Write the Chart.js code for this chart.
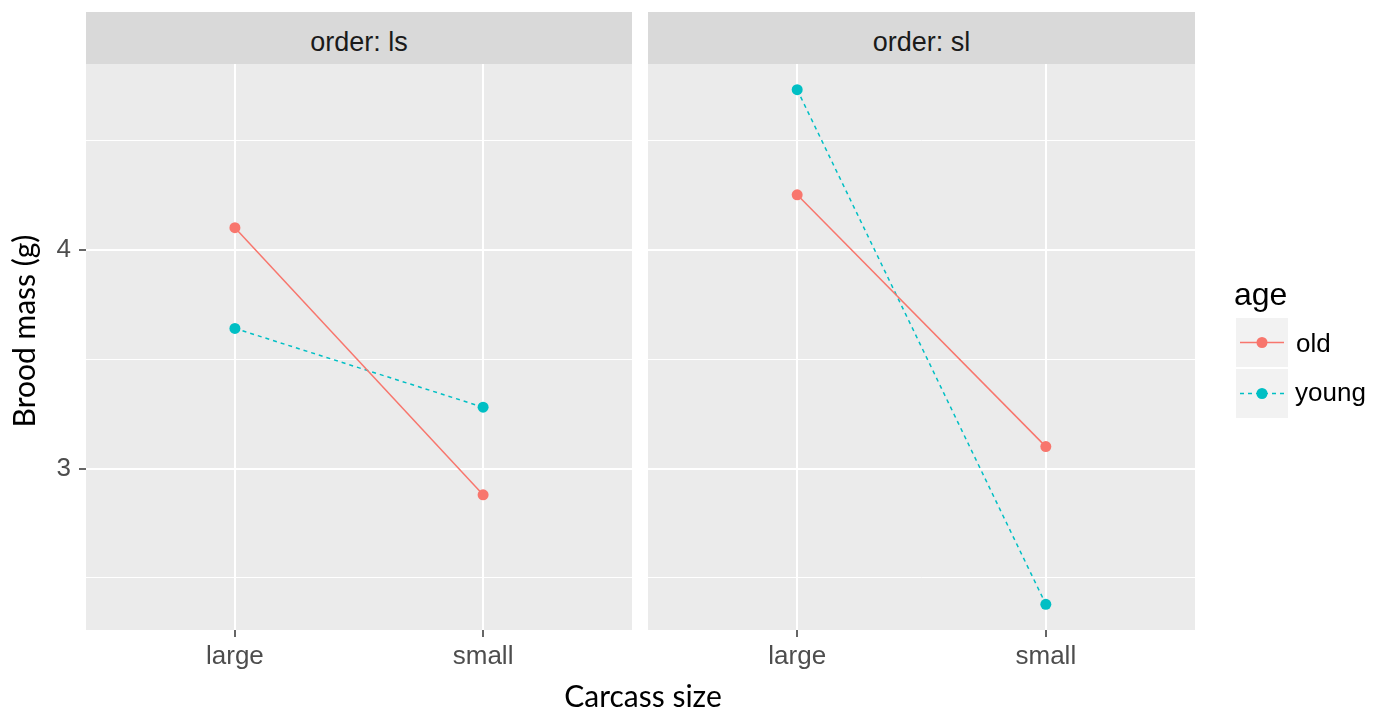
<!DOCTYPE html>
<html>
<head>
<meta charset="utf-8">
<title>Brood mass by carcass size</title>
<script src="https://cdn.jsdelivr.net/npm/chart.js@4.4.1/dist/chart.umd.min.js"></script>
<style>
  html, body { margin: 0; padding: 0; background: #ffffff; }
  body { position: relative; width: 1376px; height: 711px; overflow: hidden; font-family: "Liberation Sans", Arial, sans-serif; }
  canvas { position: absolute; }
  .strip { position: absolute; top: 12px; height: 52px; background: #D9D9D9; }
  .strip span { position: absolute; left: 0; right: 0; top: 17px; text-align: center; font-size: 27px; line-height: 27px; color: #1A1A1A; }
  .axis-title { position: absolute; font-family: Lato, "Liberation Sans", sans-serif; font-size: 30px; line-height: 30px; color: #000; text-align: center; white-space: nowrap; }
  .legend-text { position: absolute; color: #000; white-space: nowrap; }
</style>
</head>
<body>
<div class="strip" style="left:86px; width:546px;"><span id="strip-ls"></span></div>
<div class="strip" style="left:648px; width:547px;"><span id="strip-sl"></span></div>

<canvas id="panel-ls" width="632" height="626" style="left:0px; top:64px;"></canvas>
<canvas id="panel-sl" width="547" height="626" style="left:648px; top:64px;"></canvas>

<div class="axis-title" style="left:493px; top:680px; width:300px;">Carcass size</div>
<div class="axis-title" style="left:-127px; top:316px; width:300px; transform: rotate(-90deg);">Brood mass (g)</div>

<svg id="legend-keys" width="1376" height="711" style="position:absolute; left:0; top:0;"></svg>
<div class="legend-text" style="left:1234px; top:278px; font-size:32px; line-height:32px;">age</div>
<div class="legend-text" id="lab-old" style="left:1296px; top:330px; font-size:26px; line-height:26px;"></div>
<div class="legend-text" id="lab-young" style="left:1295px; top:379px; font-size:26px; line-height:26px;"></div>

<script>
// Categories and facets
const carcassSizes = ['large', 'small'];
const facetOrders = ['ls', 'sl'];
const ageGroups = ['old', 'young'];

// Mean brood mass (g) per carcass size, one array per age group and facet
const oldLs = [4.10, 2.88];
const youngLs = [3.64, 3.28];
const oldSl = [4.25, 3.10];
const youngSl = [4.73, 2.38];

// Y tick positions (major at whole grams, minor halfway)
const yTicks = [2.5, 3, 3.5, 4, 4.5];

// Series styling
const ageColors = { old: '#F8766D', young: '#00BFC4' };
const ageDash = { old: [], young: [4, 4] };

// Shared y range: data extent plus 5% on each side
const allValues = [].concat(oldLs, youngLs, oldSl, youngSl);
const dataMin = Math.min.apply(null, allValues);
const dataMax = Math.max.apply(null, allValues);
const pad = (dataMax - dataMin) * 0.05;
const yMin = dataMin - pad;
const yMax = dataMax + pad;

const TICK_FONT = { family: '"Liberation Sans", Arial, sans-serif', size: 26 };
const TICK_COLOR = '#4D4D4D';

function toPoints(values) {
  return values.map((v, i) => ({ x: i + 1, y: v }));
}

function makeDataset(age, values) {
  return {
    label: age,
    data: toPoints(values),
    borderColor: ageColors[age],
    backgroundColor: ageColors[age],
    borderWidth: 1.5,
    borderDash: ageDash[age],
    pointRadius: 5.5,
    pointHoverRadius: 5.5,
    pointBorderWidth: 0,
    pointBackgroundColor: ageColors[age],
    tension: 0,
    fill: false
  };
}

function makePanel(canvasId, seriesByAge, showYAxis) {
  const ctx = document.getElementById(canvasId).getContext('2d');
  return new Chart(ctx, {
    type: 'line',
    data: {
      datasets: ageGroups.map(age => makeDataset(age, seriesByAge[age]))
    },
    options: {
      responsive: false,
      animation: false,
      devicePixelRatio: 1,
      layout: { padding: 0, autoPadding: false },
      plugins: {
        legend: { display: false },
        tooltip: { enabled: false }
      },
      scales: {
        x: {
          type: 'linear',
          min: 0.4,
          max: 2.6,
          afterBuildTicks: scale => {
            scale.ticks = carcassSizes.map((_, i) => ({ value: i + 1 }));
          },
          afterFit: scale => {
            scale.height = 626 - 566;
            scale.paddingLeft = 0;
            scale.paddingRight = 0;
          },
          border: { display: false },
          grid: {
            color: '#FFFFFF',
            lineWidth: 2,
            drawTicks: true,
            tickLength: 7,
            tickColor: '#333333',
            tickWidth: 1.5
          },
          ticks: {
            autoSkip: false,
            maxRotation: 0,
            minRotation: 0,
            padding: 4,
            color: TICK_COLOR,
            font: TICK_FONT,
            callback: v => carcassSizes[Math.round(v) - 1]
          }
        },
        y: {
          type: 'linear',
          min: yMin,
          max: yMax,
          afterBuildTicks: scale => {
            scale.ticks = yTicks.map(v => ({ value: v }));
          },
          afterFit: scale => {
            scale.width = showYAxis ? 86 : 0;
            scale.paddingTop = 0;
            scale.paddingBottom = 0;
          },
          border: { display: false },
          grid: {
            color: '#FFFFFF',
            lineWidth: c => (c.tick && c.tick.value % 1 === 0) ? 2 : 1,
            drawTicks: showYAxis,
            tickLength: 7,
            tickWidth: 1.5,
            tickColor: c => (c.tick && c.tick.value % 1 === 0) ? '#333333' : 'rgba(0,0,0,0)'
          },
          ticks: {
            display: showYAxis,
            padding: 8,
            color: TICK_COLOR,
            font: TICK_FONT,
            callback: v => (v % 1 === 0) ? String(v) : ''
          }
        }
      }
    },
    plugins: [{
      id: 'panelBackground',
      beforeDraw(chart) {
        const a = chart.chartArea;
        const c = chart.ctx;
        c.save();
        c.fillStyle = '#EBEBEB';
        c.fillRect(a.left, a.top, a.right - a.left, a.bottom - a.top);
        c.restore();
      }
    }]
  });
}

makePanel('panel-ls', { old: oldLs, young: youngLs }, true);
makePanel('panel-sl', { old: oldSl, young: youngSl }, false);

document.getElementById('strip-ls').textContent = 'order: ' + facetOrders[0];
document.getElementById('strip-sl').textContent = 'order: ' + facetOrders[1];
document.getElementById('lab-old').textContent = ageGroups[0];
document.getElementById('lab-young').textContent = ageGroups[1];

// Legend keys: grey box with a short line and a dot for each age group
(function drawLegendKeys() {
  const svg = document.getElementById('legend-keys');
  const ns = 'http://www.w3.org/2000/svg';
  const keyTops = [318, 369];
  ageGroups.forEach((age, i) => {
    const top = keyTops[i];
    const cy = top + 24.5;
    const rect = document.createElementNS(ns, 'rect');
    rect.setAttribute('x', 1236); rect.setAttribute('y', top);
    rect.setAttribute('width', 52); rect.setAttribute('height', 49);
    rect.setAttribute('fill', '#F2F2F2');
    svg.appendChild(rect);
    const line = document.createElementNS(ns, 'line');
    line.setAttribute('x1', 1240); line.setAttribute('x2', 1284);
    line.setAttribute('y1', cy); line.setAttribute('y2', cy);
    line.setAttribute('stroke', ageColors[age]);
    line.setAttribute('stroke-width', 1.5);
    if (ageDash[age].length) line.setAttribute('stroke-dasharray', ageDash[age].join(' '));
    svg.appendChild(line);
    const dot = document.createElementNS(ns, 'circle');
    dot.setAttribute('cx', 1262); dot.setAttribute('cy', cy);
    dot.setAttribute('r', 5.5);
    dot.setAttribute('fill', ageColors[age]);
    svg.appendChild(dot);
  });
})();
</script>
</body>
</html>
